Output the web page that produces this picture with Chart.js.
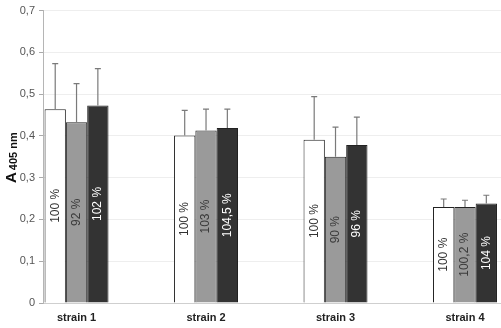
<!DOCTYPE html>
<html>
<head>
<meta charset="utf-8">
<script src="https://cdn.jsdelivr.net/npm/chart.js@4/dist/chart.umd.min.js"></script>
<style>
  body { margin: 0; background: #fff; }
</style>
</head>
<body>
<canvas id="absChart" width="501" height="328"></canvas>
<script>
// data
var strains = ['strain 1', 'strain 2', 'strain 3', 'strain 4'];
var yTicks = [0, 0.1, 0.2, 0.3, 0.4, 0.5, 0.6, 0.7];

var controlValues = [0.464, 0.401, 0.391, 0.230];
var controlErrors = [0.109, 0.060, 0.103, 0.019];
var controlLabels = ['100 %', '100 %', '100 %', '100 %'];

var greyValues = [0.433, 0.413, 0.350, 0.230];
var greyErrors = [0.092, 0.051, 0.071, 0.016];
var greyLabels = ['92 %', '103 %', '90 %', '100,2 %'];

var darkValues = [0.473, 0.419, 0.378, 0.238];
var darkErrors = [0.088, 0.045, 0.067, 0.020];
var darkLabels = ['102 %', '104,5 %', '96 %', '104 %'];

function points(values) {
    return values.map(function (v, i) { return { x: i, y: v }; });
}

// error bars (upper only) with a small cap
var errorBars = {
    id: 'errorBars',
    afterDatasetsDraw: function (chart) {
        var ctx = chart.ctx;
        var yScale = chart.scales.y;
        ctx.save();
        ctx.strokeStyle = '#7a7a7a';
        ctx.lineWidth = 1.2;
        chart.data.datasets.forEach(function (ds, d) {
            var meta = chart.getDatasetMeta(d);
            meta.data.forEach(function (bar, i) {
                var top = yScale.getPixelForValue(ds.data[i].y + ds.errors[i]);
                ctx.beginPath();
                ctx.moveTo(bar.x, bar.y);
                ctx.lineTo(bar.x, top);
                ctx.moveTo(bar.x - 3, top);
                ctx.lineTo(bar.x + 3, top);
                ctx.stroke();
            });
        });
        ctx.restore();
    }
};

// rotated percentage labels inside the bars
var barLabels = {
    id: 'barLabels',
    afterDatasetsDraw: function (chart) {
        var ctx = chart.ctx;
        ctx.save();
        ctx.font = '12px "Liberation Sans", Arial, sans-serif';
        ctx.textAlign = 'center';
        ctx.textBaseline = 'middle';
        chart.data.datasets.forEach(function (ds, d) {
            var meta = chart.getDatasetMeta(d);
            meta.data.forEach(function (bar, i) {
                ctx.save();
                ctx.translate(bar.x, (bar.y + bar.base) / 2);
                ctx.rotate(-Math.PI / 2);
                ctx.fillStyle = ds.labelColor;
                ctx.fillText(ds.pctLabels[i], 0, 0);
                ctx.restore();
            });
        });
        ctx.restore();
    }
};

// y axis title "A 405 nm"
var yTitle = {
    id: 'yTitle',
    afterDraw: function (chart) {
        var ctx = chart.ctx;
        ctx.save();
        ctx.translate(16, 183);
        ctx.rotate(-Math.PI / 2);
        ctx.fillStyle = '#111';
        ctx.textBaseline = 'alphabetic';
        ctx.font = 'bold 15px "Liberation Sans", Arial, sans-serif';
        ctx.fillText('A', 0, 0);
        var w = ctx.measureText('A').width;
        ctx.font = 'bold 11px "Liberation Sans", Arial, sans-serif';
        ctx.fillText('405 nm', w + 2, 1);
        ctx.restore();
    }
};

var ctx = document.getElementById('absChart').getContext('2d');
var chart = new Chart(ctx, {
    type: 'bar',
    data: {
        datasets: [{
            data: points(controlValues),
            errors: controlErrors,
            pctLabels: controlLabels,
            labelColor: '#333',
            backgroundColor: '#ffffff',
            borderColor: '#222',
            borderWidth: 1
        }, {
            data: points(greyValues),
            errors: greyErrors,
            pctLabels: greyLabels,
            labelColor: '#3a3a3a',
            backgroundColor: '#9a9a9a',
            borderColor: '#222',
            borderWidth: 1
        }, {
            data: points(darkValues),
            errors: darkErrors,
            pctLabels: darkLabels,
            labelColor: '#ffffff',
            backgroundColor: '#333333',
            borderColor: '#222',
            borderWidth: 1
        }]
    },
    options: {
        responsive: false,
        animation: false,
        layout: { padding: 0 },
        categoryPercentage: 0.494,
        barPercentage: 1.0,
        plugins: {
            legend: { display: false },
            tooltip: { enabled: false }
        },
        scales: {
            x: {
                type: 'linear',
                offset: false,
                min: -0.259,
                max: 3.278,
                grid: { display: false, drawTicks: false, offset: false },
                border: { color: '#cfcfcf' },
                ticks: {
                    stepSize: 1,
                    includeBounds: false,
                    padding: 8,
                    color: '#222',
                    font: { family: '"Liberation Sans", Arial, sans-serif', size: 11, weight: 'bold' },
                    callback: function (v) { return strains[v] || ''; }
                },
                afterFit: function (scale) { scale.height = 25; }
            },
            y: {
                min: 0,
                max: 0.7,
                afterBuildTicks: function (scale) {
                    scale.ticks = yTicks.map(function (v) { return { value: v }; });
                },
                grid: { color: '#eeeeee', tickColor: '#aaaaaa', tickLength: 4 },
                border: { color: '#b5b5b5' },
                ticks: {
                    padding: 4,
                    color: '#555',
                    font: { family: '"Liberation Sans", Arial, sans-serif', size: 11 },
                    callback: function (v) { return v === 0 ? '0' : v.toFixed(1).replace('.', ','); }
                },
                afterFit: function (scale) { scale.width = 43; }
            }
        }
    },
    plugins: [errorBars, barLabels, yTitle]
});
</script>
</body>
</html>
